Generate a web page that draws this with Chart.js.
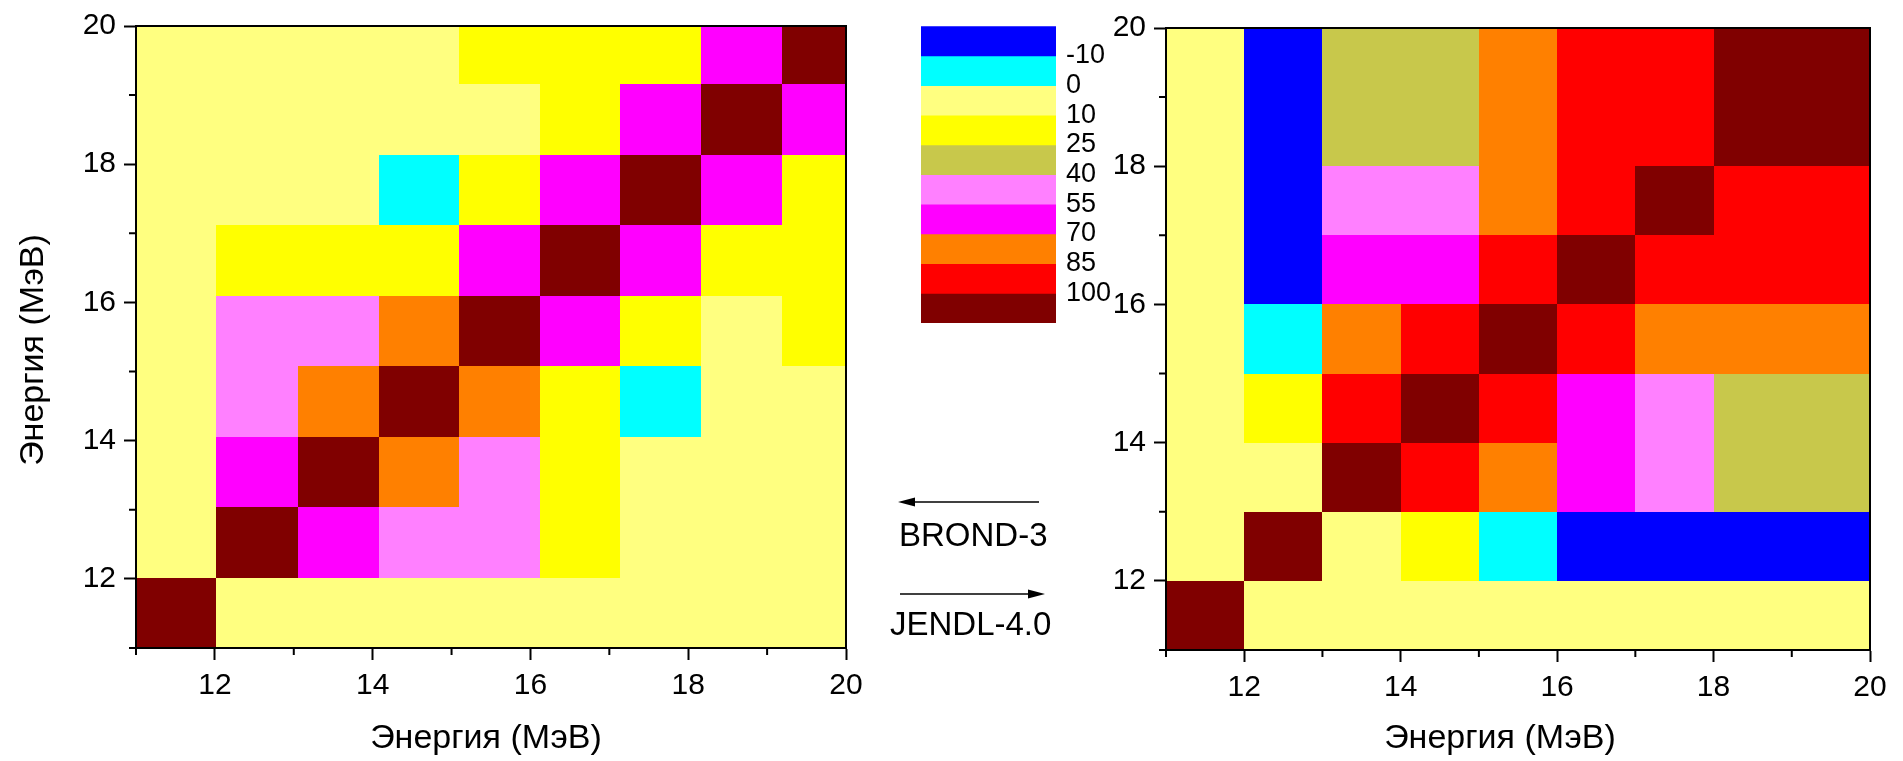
<!DOCTYPE html>
<html>
<head>
<meta charset="utf-8">
<script src="https://cdn.jsdelivr.net/npm/chart.js@4.4.1/dist/chart.umd.min.js"></script>
<style>
  html, body { margin: 0; padding: 0; background: #fff; }
  body { width: 1903px; height: 761px; position: relative; overflow: hidden; }
  .box { position: absolute; }
  #boxBrond { left: 0; top: 0; width: 880px; height: 761px; }
  #boxKey { left: 900px; top: 0; width: 260px; height: 400px; }
  #boxJendl { left: 1090px; top: 0; width: 813px; height: 761px; }
  #arrows { position: absolute; left: 860px; top: 460px; }
</style>
</head>
<body>
<div class="box" id="boxBrond"><canvas id="brondChart"></canvas></div>
<div class="box" id="boxKey"><canvas id="keyChart"></canvas></div>
<div class="box" id="boxJendl"><canvas id="jendlChart"></canvas></div>
<svg id="arrows" width="200" height="200" font-family="Liberation Sans, Arial, sans-serif">
  <line x1="50" y1="42" x2="179" y2="42" stroke="#000" stroke-width="1.5"/>
  <polygon points="38,42 55,37.5 55,46.5" fill="#000"/>
  <text x="39" y="86" font-size="33">BROND-3</text>
  <line x1="40" y1="134" x2="172" y2="134" stroke="#000" stroke-width="1.5"/>
  <polygon points="185,134 168,129.5 168,138.5" fill="#000"/>
  <text x="30" y="175" font-size="33">JENDL-4.0</text>
</svg>
<script>
// correlation levels (%) and the fill used between them
const levels = [-10, 0, 10, 25, 40, 55, 70, 85, 100];
const binColors = ['#0000FF', '#00FFFF', '#FFFF80', '#FFFF00', '#C8C84B',
                   '#FF80FF', '#FF00FF', '#FF8000', '#FF0000', '#800000'];

const majorTicks = [12, 14, 16, 18, 20];
const minorTicks = [11, 13, 15, 17, 19];

// group boundaries, MeV
const brondXEdges = [11, 12.02, 13.05, 14.08, 15.10, 16.12, 17.14, 18.16, 19.19, 20];
const brondYEdges = [11, 12.02, 13.04, 14.06, 15.08, 16.10, 17.12, 18.14, 19.16, 20];
const jendlEdges = [11, 12, 13, 14, 15, 16, 17, 18, 19, 20];

// correlation matrices, rows listed from the highest energy group down
const brond3 = [
  [  3,   4,   5,   6,  14,  18,  12,  60, 100],
  [  4,   5,   6,   8,   9,  16,  64, 100,  60],
  [  5,   6,   7,  -4,  15,  62, 100,  64,  12],
  [  6,  12,  14,  20,  58, 100,  62,  16,  18],
  [  5,  45,  50,  74, 100,  58,  15,   9,  14],
  [  4,  52,  78, 100,  74,  20,  -4,   8,   6],
  [  3,  65, 100,  78,  50,  14,   7,   6,   5],
  [  2, 100,  65,  52,  45,  12,   6,   5,   4],
  [100,   2,   3,   4,   5,   6,   5,   4,   3]
];
const jendl40 = [
  [  2, -18,  35,  32,  80,  90,  92, 100, 100],
  [  2, -18,  35,  32,  80,  90,  92, 100, 100],
  [  2, -15,  50,  48,  78,  93, 100,  92,  92],
  [  2, -15,  62,  60,  88, 100,  93,  90,  90],
  [  2,  -5,  76,  90, 100,  88,  78,  80,  80],
  [  2,  20,  92, 100,  90,  60,  48,  32,  32],
  [  2,   5, 100,  92,  76,  62,  50,  35,  35],
  [  2, 100,   5,  20,  -5, -15, -15, -18, -18],
  [100,   2,   2,   2,   2,   2,   2,   2,   2]
];

const axisTitle = 'Энергия (МэВ)';
const fontFamily = 'Liberation Sans, Arial, sans-serif';

Chart.defaults.font.family = fontFamily;
Chart.defaults.color = '#000';

function colorFor(v) {
  let k = 0;
  while (k < levels.length && v >= levels[k]) k++;
  return binColors[k];
}

function toCells(matrix, xEdges, yEdges) {
  const cells = [];
  const n = matrix.length;
  matrix.forEach((row, r) => {
    const j = n - 1 - r;
    row.forEach((v, i) => {
      cells.push({
        x: (xEdges[i] + xEdges[i + 1]) / 2, y: (yEdges[j] + yEdges[j + 1]) / 2,
        x0: xEdges[i], x1: xEdges[i + 1], y0: yEdges[j], y1: yEdges[j + 1], v: v
      });
    });
  });
  return cells;
}

// fills every cell as a rectangle in axis units
const heatCells = {
  id: 'heatCells',
  beforeDatasetsDraw(chart) {
    const { ctx, chartArea: a, scales: { x, y } } = chart;
    ctx.save();
    ctx.beginPath();
    ctx.rect(a.left, a.top, a.width, a.height);
    ctx.clip();
    chart.data.datasets[0].data.forEach(c => {
      const l = Math.round(x.getPixelForValue(c.x0));
      const r = Math.round(x.getPixelForValue(c.x1));
      const t = Math.round(y.getPixelForValue(c.y1));
      const b = Math.round(y.getPixelForValue(c.y0));
      ctx.fillStyle = colorFor(c.v);
      ctx.fillRect(l, t, r - l, b - t);
    });
    ctx.restore();
  }
};

// closed frame and short unlabelled ticks
const frame = {
  id: 'frame',
  afterDraw(chart) {
    const { ctx, chartArea: a, scales: { x, y } } = chart;
    ctx.save();
    ctx.strokeStyle = '#000';
    ctx.lineWidth = 2;
    ctx.strokeRect(a.left, a.top, a.width, a.height);
    ctx.beginPath();
    minorTicks.forEach(v => {
      const px = x.getPixelForValue(v);
      ctx.moveTo(px, a.bottom);
      ctx.lineTo(px, a.bottom + 7);
      const py = y.getPixelForValue(v);
      ctx.moveTo(a.left, py);
      ctx.lineTo(a.left - 7, py);
    });
    ctx.stroke();
    ctx.restore();
  }
};

// axis titles, placed relative to the plot centre
const axisTitles = {
  id: 'axisTitles',
  afterDraw(chart, args, opts) {
    const { ctx, chartArea: a } = chart;
    ctx.save();
    ctx.font = opts.size + 'px ' + fontFamily;
    ctx.fillStyle = '#000';
    ctx.textAlign = 'center';
    ctx.textBaseline = 'middle';
    ctx.fillText(opts.text, (a.left + a.right) / 2 + opts.xShift, chart.height - opts.xFromBottom);
    if (opts.showY) {
      ctx.translate(opts.yFromLeft, (a.top + a.bottom) / 2 + opts.yShift);
      ctx.rotate(-Math.PI / 2);
      ctx.fillText(opts.text, 0, 0);
    }
    ctx.restore();
  }
};

function energyAxis(pos, size) {
  return {
    type: 'linear',
    position: pos,
    min: 11,
    max: 20,
    afterBuildTicks: s => { s.ticks = majorTicks.map(v => ({ value: v })); },
    ticks: { autoSkip: false, maxRotation: 0, padding: 8, font: { size: 30 }, color: '#000' },
    grid: { drawOnChartArea: false, drawTicks: true, tickLength: 12, tickWidth: 2, tickColor: '#000' },
    border: { display: true, color: '#000', width: 2 },
    afterFit: s => {
      if (pos === 'left') s.width = size; else s.height = size;
    }
  };
}

function heatmap(id, matrix, xEdges, yEdges, lay) {
  return new Chart(id, {
    type: 'scatter',
    data: { datasets: [{ data: toCells(matrix, xEdges, yEdges), pointRadius: 0 }] },
    options: {
      animation: false,
      responsive: true,
      maintainAspectRatio: false,
      layout: { padding: { left: 0, top: lay.top, right: lay.right, bottom: 0 } },
      plugins: {
        legend: { display: false },
        tooltip: { enabled: false },
        axisTitles: {
          text: axisTitle, size: 34, xShift: lay.titleShift, xFromBottom: 22,
          showY: lay.yTitle, yFromLeft: 34, yShift: 13
        }
      },
      scales: {
        x: energyAxis('bottom', lay.xAxis),
        y: energyAxis('left', lay.yAxis)
      }
    },
    plugins: [heatCells, frame, axisTitles]
  });
}

heatmap('brondChart', brond3, brondXEdges, brondYEdges,
        { top: 24, right: 34, xAxis: 113, yAxis: 136, yTitle: true, titleShift: -5 });
heatmap('jendlChart', jendl40, jendlEdges, jendlEdges,
        { top: 28, right: 33, xAxis: 111, yAxis: 76, yTitle: false, titleShift: -18 });

// colour key: one stacked bar, a band per level interval
new Chart('keyChart', {
  type: 'bar',
  data: {
    labels: [''],
    datasets: binColors.map(c => ({
      data: [1], backgroundColor: c, borderWidth: 0, barPercentage: 1, categoryPercentage: 1
    }))
  },
  options: {
    animation: false,
    responsive: true,
    maintainAspectRatio: false,
    layout: { padding: { left: 21, top: 24, right: 0, bottom: 77 } },
    plugins: { legend: { display: false }, tooltip: { enabled: false } },
    scales: {
      x: { display: false, stacked: true },
      y: {
        stacked: true,
        reverse: true,
        position: 'right',
        min: 0,
        max: binColors.length,
        afterBuildTicks: s => { s.ticks = levels.map((_, i) => ({ value: i + 1 })); },
        ticks: { padding: 10, font: { size: 27 }, color: '#000', callback: v => String(levels[v - 1]) },
        grid: { display: false, drawTicks: false },
        border: { display: false },
        afterFit: s => { s.width = 104; }
      }
    }
  }
});
</script>
</body>
</html>
